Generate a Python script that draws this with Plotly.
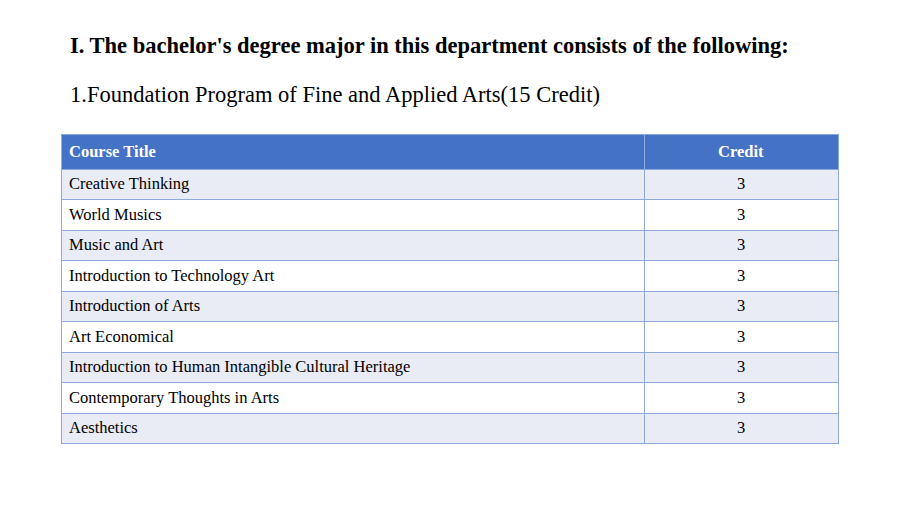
import plotly.graph_objects as go

header = ["Course Title", "Credit"]
courses = ["Creative Thinking", "World Musics", "Music and Art",
           "Introduction to Technology Art", "Introduction of Arts",
           "Art Economical", "Introduction to Human Intangible Cultural Heritage",
           "Contemporary Thoughts in Arts", "Aesthetics"]
credits = [3, 3, 3, 3, 3, 3, 3, 3, 3]

W, H = 900, 506
off = 8  # page renders shifted by this much
row_fill = ["#E9EBF5" if i % 2 == 0 else "white" for i in range(len(courses))]

fig = go.Figure(go.Table(
    columnwidth=[583, 194],
    header=dict(values=["<b>%s</b>" % h for h in header],
                fill_color="#4472C4", line_color="#8EA9DB",
                font=dict(family="Liberation Serif", size=16.5, color="white"),
                align=["left", "center"], height=30.5),
    cells=dict(values=[courses, credits],
               fill_color=[row_fill, row_fill], line_color="#8EA9DB",
               font=dict(family="Liberation Serif", size=16.5, color="black"),
               align=["left", "center"], height=30.5),
    domain=dict(x=[(61 - off) / W, (838 - off) / W], y=[0, 1 - (134 - off) / H]),
))

fig.add_annotation(text="<b>I. The bachelor's degree major in this department consists of the following:</b>",
                   x=(68 - off) / W, y=1 - (45 - off) / H, xref="paper", yref="paper",
                   xanchor="left", yanchor="middle",
                   showarrow=False, font=dict(family="Liberation Serif", size=22.5, color="black"))
fig.add_annotation(text="1.Foundation Program of Fine and Applied Arts(15 Credit)",
                   x=(68 - off) / W, y=1 - (94 - off) / H, xref="paper", yref="paper",
                   xanchor="left", yanchor="middle",
                   showarrow=False, font=dict(family="Liberation Serif", size=22.5, color="black"))

fig.update_layout(width=W, height=H, margin=dict(l=0, r=0, t=0, b=0),
                  paper_bgcolor="white", plot_bgcolor="white")
fig.write_html("out.html")
